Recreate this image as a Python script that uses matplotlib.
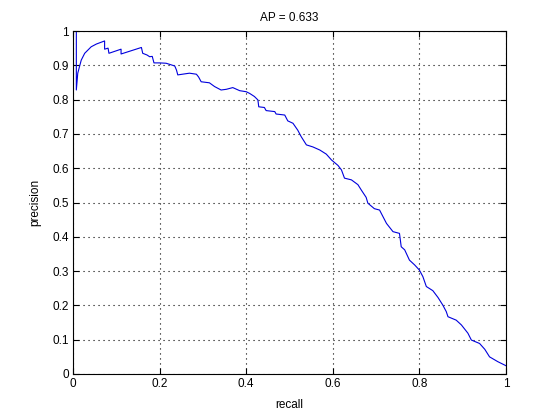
import matplotlib
matplotlib.use("Agg")
import matplotlib.pyplot as plt

plt.rcParams['font.family'] = ['Liberation Sans', 'DejaVu Sans']

recall = [0.0077, 0.0077, 0.011, 0.019, 0.027, 0.042, 0.054, 0.073, 0.073, 0.081, 0.083,
          0.111, 0.111, 0.158, 0.161, 0.171, 0.177, 0.183, 0.187, 0.200, 0.215, 0.235,
          0.239, 0.242, 0.258, 0.269, 0.285, 0.290, 0.296, 0.315, 0.327, 0.342, 0.354,
          0.369, 0.385, 0.400, 0.408, 0.419, 0.427, 0.429, 0.442, 0.446, 0.466, 0.469,
          0.489, 0.496, 0.508, 0.519, 0.527, 0.539, 0.554, 0.570, 0.585, 0.597, 0.612,
          0.620, 0.627, 0.643, 0.658, 0.666, 0.677, 0.681, 0.696, 0.708, 0.724, 0.739,
          0.754, 0.758, 0.766, 0.777, 0.789, 0.800, 0.808, 0.816, 0.831, 0.843, 0.854,
          0.862, 0.866, 0.885, 0.897, 0.912, 0.920, 0.939, 0.951, 0.962, 0.981, 0.997, 1.0]
precision = [1.0, 0.828, 0.877, 0.915, 0.935, 0.954, 0.962, 0.971, 0.947, 0.950, 0.935,
             0.947, 0.933, 0.952, 0.935, 0.930, 0.925, 0.926, 0.907, 0.907, 0.906, 0.898,
             0.886, 0.872, 0.875, 0.877, 0.874, 0.866, 0.852, 0.849, 0.838, 0.828, 0.830,
             0.835, 0.826, 0.823, 0.818, 0.809, 0.799, 0.779, 0.777, 0.768, 0.765, 0.758,
             0.755, 0.738, 0.731, 0.711, 0.692, 0.668, 0.662, 0.653, 0.641, 0.624, 0.608,
             0.595, 0.571, 0.566, 0.552, 0.536, 0.515, 0.498, 0.482, 0.478, 0.439, 0.415,
             0.410, 0.371, 0.362, 0.332, 0.318, 0.303, 0.284, 0.255, 0.243, 0.223, 0.201,
             0.182, 0.167, 0.157, 0.143, 0.119, 0.099, 0.089, 0.072, 0.050, 0.036, 0.026, 0.024]

ap_value = 0.633
xticks = [0, 0.2, 0.4, 0.6, 0.8, 1]
xticklabels = ['0', '0.2', '0.4', '0.6', '0.8', '1']
yticks = [0, 0.1, 0.2, 0.3, 0.4, 0.5, 0.6, 0.7, 0.8, 0.9, 1]
yticklabels = ['0', '0.1', '0.2', '0.3', '0.4', '0.5', '0.6', '0.7', '0.8', '0.9', '1']

fig = plt.figure(figsize=(5.6, 4.2), dpi=100)
fig.patch.set_facecolor('white')
ax = fig.add_axes([73/560, 46/420, 433/560, 343/420])
ax.plot(recall, precision, color='#0000dd', linewidth=0.8)
ax.set_xlim(0, 1)
ax.set_ylim(0, 1)
ax.set_xticks(xticks)
ax.set_xticklabels(xticklabels)
ax.set_yticks(yticks)
ax.set_yticklabels(yticklabels)
ax.tick_params(direction='in', top=True, right=True, labelsize=8.5, length=4, width=0.8, pad=3)
ax.grid(True, linestyle=(0, (1, 3.5)), color='black', linewidth=0.8)
for s in ax.spines.values():
    s.set_linewidth(0.8)
ax.set_title(f'AP = {ap_value:.3f}', fontsize=8.5, pad=7)
ax.set_xlabel('recall', fontsize=8.5, labelpad=6)
ax.set_ylabel('precision', fontsize=8.5, labelpad=8)
fig.savefig('out.png', dpi=100, facecolor='white')
